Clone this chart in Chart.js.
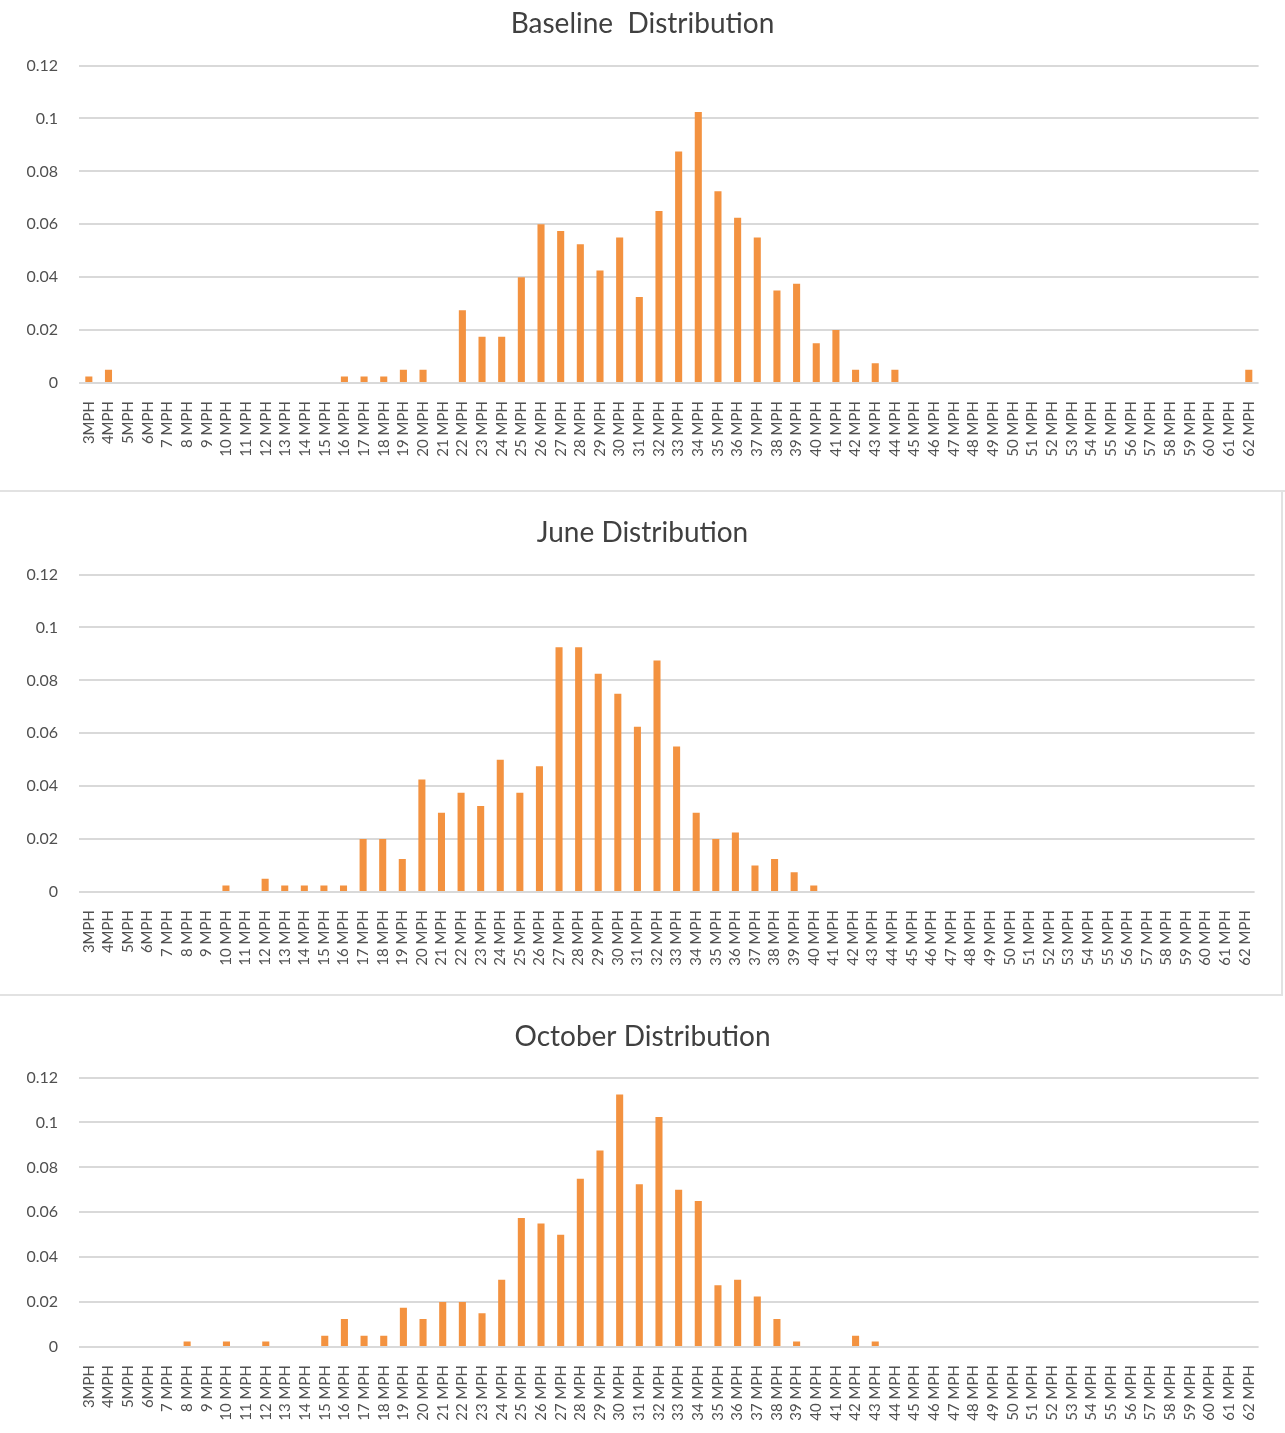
<!DOCTYPE html>
<html>
<head>
<meta charset="utf-8">
<script src="https://cdn.jsdelivr.net/npm/chart.js@4.4.1/dist/chart.umd.min.js"></script>
<style>
    html, body { margin: 0; padding: 0; background: #fff; }
    .panel { position: relative; width: 1285px; border-bottom: 2px solid #e2e2e2; }
    #panel1 { height: 490px; }
    #panel2 { height: 502px; width: 1281px; border-right: 2px solid #e2e2e2; }
    #panel3 { height: 437px; border-bottom: none; }
</style>
</head>
<body>
<div class="panel" id="panel1"><canvas id="baselineChart"></canvas></div>
<div class="panel" id="panel2"><canvas id="juneChart"></canvas></div>
<div class="panel" id="panel3"><canvas id="octoberChart"></canvas></div>

<script>
// speed buckets (x axis)
const speedLabels = [
    '3MPH', '4MPH', '5MPH', '6MPH', '7 MPH', '8 MPH', '9 MPH', '10 MPH', '11 MPH', '12 MPH',
    '13 MPH', '14 MPH', '15 MPH', '16 MPH', '17 MPH', '18 MPH', '19 MPH', '20 MPH', '21 MPH', '22 MPH',
    '23 MPH', '24 MPH', '25 MPH', '26 MPH', '27 MPH', '28 MPH', '29 MPH', '30 MPH', '31 MPH', '32 MPH',
    '33 MPH', '34 MPH', '35 MPH', '36 MPH', '37 MPH', '38 MPH', '39 MPH', '40 MPH', '41 MPH', '42 MPH',
    '43 MPH', '44 MPH', '45 MPH', '46 MPH', '47 MPH', '48 MPH', '49 MPH', '50 MPH', '51 MPH', '52 MPH',
    '53 MPH', '54 MPH', '55 MPH', '56 MPH', '57 MPH', '58 MPH', '59 MPH', '60 MPH', '61 MPH', '62 MPH'
];

// share of vehicles per speed bucket
const baselineValues = [
    0.0025, 0.005, 0, 0, 0, 0, 0, 0, 0, 0,
    0, 0, 0, 0.0025, 0.0025, 0.0025, 0.005, 0.005, 0, 0.0275,
    0.0175, 0.0175, 0.04, 0.06, 0.0575, 0.0525, 0.0425, 0.055, 0.0325, 0.065,
    0.0875, 0.1025, 0.0725, 0.0625, 0.055, 0.035, 0.0375, 0.015, 0.02, 0.005,
    0.0075, 0.005, 0, 0, 0, 0, 0, 0, 0, 0,
    0, 0, 0, 0, 0, 0, 0, 0, 0, 0.005
];

const juneValues = [
    0, 0, 0, 0, 0, 0, 0, 0.0025, 0, 0.005,
    0.0025, 0.0025, 0.0025, 0.0025, 0.02, 0.02, 0.0125, 0.0425, 0.03, 0.0375,
    0.0325, 0.05, 0.0375, 0.0475, 0.0925, 0.0925, 0.0825, 0.075, 0.0625, 0.0875,
    0.055, 0.03, 0.02, 0.0225, 0.01, 0.0125, 0.0075, 0.0025, 0, 0,
    0, 0, 0, 0, 0, 0, 0, 0, 0, 0,
    0, 0, 0, 0, 0, 0, 0, 0, 0, 0
];

const octoberValues = [
    0, 0, 0, 0, 0, 0.0025, 0, 0.0025, 0, 0.0025,
    0, 0, 0.005, 0.0125, 0.005, 0.005, 0.0175, 0.0125, 0.02, 0.02,
    0.015, 0.03, 0.0575, 0.055, 0.05, 0.075, 0.0875, 0.1125, 0.0725, 0.1025,
    0.07, 0.065, 0.0275, 0.03, 0.0225, 0.0125, 0.0025, 0, 0, 0.005,
    0.0025, 0, 0, 0, 0, 0, 0, 0, 0, 0,
    0, 0, 0, 0, 0, 0, 0, 0, 0, 0
];

// y axis ticks
const yTickValues = [0, 0.02, 0.04, 0.06, 0.08, 0.1, 0.12];
const yTickLabels = ['0', '0.02', '0.04', '0.06', '0.08', '0.1', '0.12'];

const BAR_COLOR = '#f39240';
const GRID_COLOR = '#d9d9d9';
const TEXT_COLOR = '#505050';

function makeChart(canvasId, title, values, layout) {
    const ctx = document.getElementById(canvasId);

    return new Chart(ctx, {
        type: 'bar',
        data: {
            labels: speedLabels,
            datasets: [{
                label: title,
                data: values,
                backgroundColor: BAR_COLOR,
                borderWidth: 0,
                barPercentage: 0.36,
                categoryPercentage: 1
            }]
        },
        options: {
            responsive: true,
            maintainAspectRatio: false,
            animation: false,
            // left padding + axis width keep the plot at x=79 and the title centred
            layout: { padding: { left: 26, right: layout.right, top: 0, bottom: 0 } },
            scales: {
                x: {
                    grid: { display: false, drawTicks: false },
                    border: { display: false },
                    ticks: {
                        autoSkip: false,
                        maxRotation: 90,
                        minRotation: 90,
                        padding: 18,
                        color: TEXT_COLOR,
                        font: { family: 'Lato', size: 15 }
                    },
                    afterFit: (scale) => { scale.height = layout.axisHeight; }
                },
                y: {
                    min: 0,
                    max: 0.12,
                    afterBuildTicks: (scale) => {
                        scale.ticks = yTickValues.map(v => ({ value: v }));
                    },
                    grid: { color: GRID_COLOR, lineWidth: 2, drawTicks: false },
                    border: { display: false },
                    ticks: {
                        padding: 21,
                        color: TEXT_COLOR,
                        font: { family: 'Lato', size: 16 },
                        callback: (v, i) => yTickLabels[i]
                    },
                    afterFit: (scale) => { scale.width = 53; }
                }
            },
            plugins: {
                legend: { display: false },
                tooltip: { enabled: false },
                title: {
                    display: true,
                    text: title,
                    color: '#404040',
                    font: { family: 'Lato', size: 28, weight: 'normal' },
                    padding: { top: layout.titleTop, bottom: layout.titleBottom }
                }
            }
        }
    });
}

document.addEventListener('DOMContentLoaded', () => {
    makeChart('baselineChart', 'Baseline  Distribution', baselineValues,
        { titleTop: 7, titleBottom: 25, axisHeight: 107, right: 26 });
    makeChart('juneChart', 'June Distribution', juneValues,
        { titleTop: 24, titleBottom: 25, axisHeight: 102, right: 22 });
    makeChart('octoberChart', 'October Distribution', octoberValues,
        { titleTop: 24, titleBottom: 24, axisHeight: 86, right: 26 });
});
</script>
</body>
</html>
